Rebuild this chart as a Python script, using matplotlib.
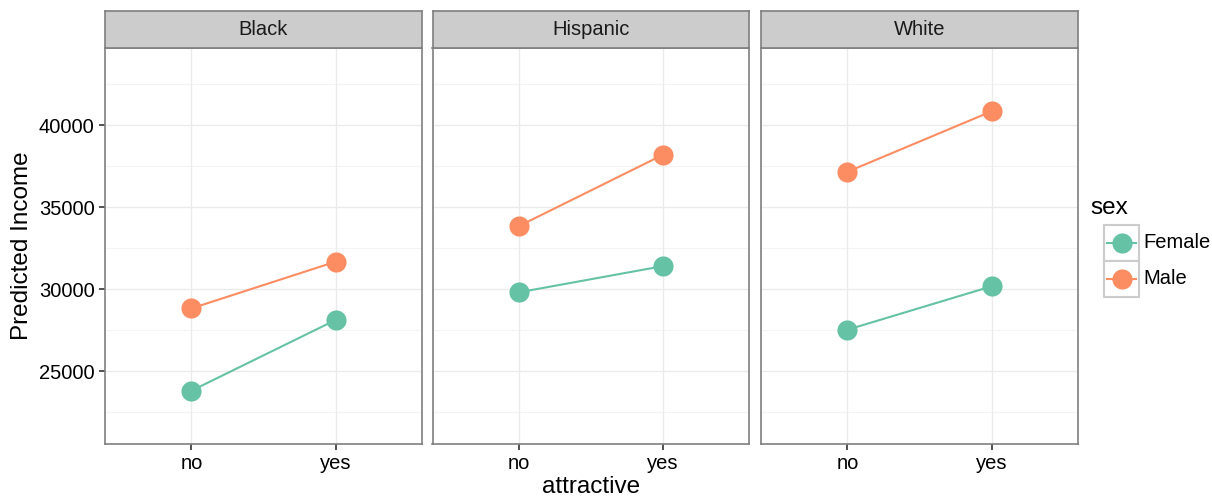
import matplotlib
matplotlib.use('Agg')
import matplotlib.pyplot as plt
from matplotlib.patches import Rectangle

plt.rcParams['font.family'] = ['Liberation Sans', 'DejaVu Sans']

races = ['Black', 'Hispanic', 'White']
attractive = ['no', 'yes']
sexes = ['Female', 'Male']
colors = {'Female': '#66C2A5', 'Male': '#FC8D62'}

# predicted income, [no, yes]
female = {'Black': [23800, 28110], 'Hispanic': [29800, 31400], 'White': [27520, 30165]}
male = {'Black': [28820, 31665], 'Hispanic': [33840, 38190], 'White': [37150, 40835]}
values = {'Female': female, 'Male': male}

yticks = [25000, 30000, 35000, 40000]
yminor = [22500, 27500, 32500, 37500, 42500]

W, H = 1212, 496
fig = plt.figure(figsize=(W / 100, H / 100), dpi=100)

panel_left = [105, 432.5, 761]
pw = 317
ptop, pbot = 48, 444
strip_top = 10.5

for k, race in enumerate(races):
    x0 = panel_left[k]
    ax = fig.add_axes([x0 / W, (H - pbot) / H, pw / W, (pbot - ptop) / H])
    ax.set_xlim(-0.6, 1.6)
    ax.set_ylim(20550, 44700)
    for y in yminor:
        ax.axhline(y, color='#f4f4f4', lw=0.8, zorder=0)
    for y in yticks:
        ax.axhline(y, color='#ebebeb', lw=1.0, zorder=0)
    for x in range(len(attractive)):
        ax.axvline(x, color='#ebebeb', lw=1.0, zorder=0)
    for s in sexes:
        ax.plot(range(len(attractive)), values[s][race], color=colors[s],
                lw=1.5, marker='o', ms=14.5, mec='none', zorder=3)
    ax.set_xticks(range(len(attractive)))
    ax.set_xticklabels(attractive)
    ax.set_yticks(yticks)
    if k == 0:
        ax.set_yticklabels([str(v) for v in yticks])
    else:
        ax.tick_params(axis='y', left=False, labelleft=False)
    ax.tick_params(labelsize=14.5, colors='#333333', labelcolor='black',
                   length=4, width=1.2, pad=3.5)
    for sp in ax.spines.values():
        sp.set_color('#7f7f7f')
        sp.set_linewidth(1.2)

    # strip
    sax = fig.add_axes([x0 / W, (H - ptop) / H, pw / W, (ptop - strip_top) / H])
    sax.set_facecolor('#cccccc')
    sax.set_xticks([])
    sax.set_yticks([])
    for sp in sax.spines.values():
        sp.set_color('#7f7f7f')
        sp.set_linewidth(1.2)
    sax.text(0.5, 0.5, race, ha='center', va='center', fontsize=14.5,
             color='#1a1a1a', transform=sax.transAxes)

fig.text(591 / W, 1 - 487 / H, 'attractive', ha='center', va='center', fontsize=17.5)
fig.text(22 / W, 1 - 246 / H, 'Predicted Income', ha='center', va='center',
         rotation=90, fontsize=17.5)

# legend
lax = fig.add_axes([0, 0, 1, 1], facecolor='none')
lax.set_xlim(0, W)
lax.set_ylim(H, 0)
lax.axis('off')
lax.text(1090, 208, 'sex', ha='left', va='center', fontsize=17.5)
for i, s in enumerate(sexes):
    top = 225 + i * 36
    lax.add_patch(Rectangle((1104, top), 35, 36, facecolor='white',
                            edgecolor='#cccccc', lw=1.5))
    yc = top + 18
    lax.plot([1107, 1136], [yc, yc], color=colors[s], lw=1.5)
    lax.plot([1121.5], [yc], marker='o', ms=14.5, color=colors[s], mec='none')
    lax.text(1143, yc, s, ha='left', va='center', fontsize=14.5)

fig.savefig('out.png', dpi=100)
